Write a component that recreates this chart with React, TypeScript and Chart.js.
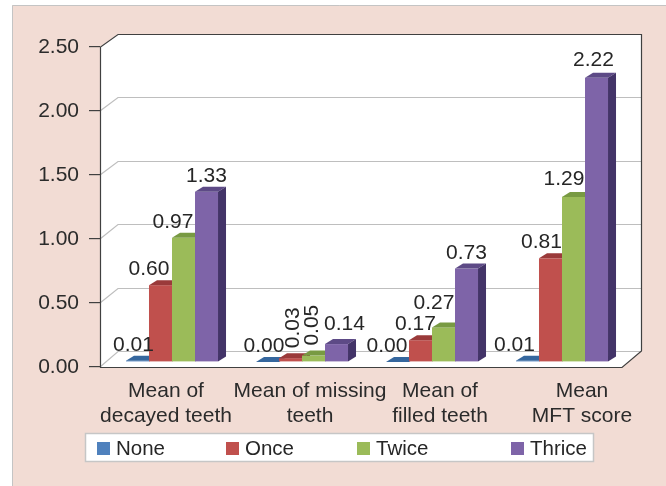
import { useEffect, useRef } from "react";
import { Chart, registerables } from "chart.js";

Chart.register(...registerables);

// ---------- data ----------
const categories = [
  ["Mean of", "decayed teeth"],
  ["Mean of missing", "teeth"],
  ["Mean of", "filled teeth"],
  ["Mean", "MFT score"],
];
const seriesNames = ["None", "Once", "Twice", "Thrice"];
const noneValues = [0.01, 0.0, 0.0, 0.01];
const onceValues = [0.6, 0.03, 0.17, 0.81];
const twiceValues = [0.97, 0.05, 0.27, 1.29];
const thriceValues = [1.33, 0.14, 0.73, 2.22];
const yTickValues = [0, 0.5, 1, 1.5, 2, 2.5];

// ---------- styles / layout ----------
const W = 666;
const H = 486;
const FONT = '"Liberation Sans", Arial, sans-serif';
const PINK = "#F2DCD4";
const frontColors = ["#4F81BD", "#C0504D", "#9BBB59", "#7E64A8"];
const topColors = ["#35679E", "#9A3A3A", "#789A42", "#5D4A86"];
const sideColors = ["#284C75", "#7A2B2B", "#5B7631", "#433468"];
const PLANE_DX = 7;
const PLANE_DY = -5;
const DEPTH_DX = 8;
const DEPTH_DY = -5;
// per-label nudges (px) [series][category]
const labelNudge = [
  [-4, -3.5, -10.5, -13],
  [-11.5, 3, -5, -9],
  [-10.5, -1, -9.5, -9.5],
  [0, 8, 0, -3],
];
const labelNudgeY = [
  [0, 0, 0, 0],
  [0, 0, 0, 0],
  [0, 0, -8, -2],
  [0, -4, 0, -2],
];
const labelVertical = [
  [false, false, false, false],
  [false, true, false, false],
  [false, true, false, false],
  [false, false, false, false],
];
const catLabelDx = [1, 15, 15, 27];
const legendItemX = [97, 226, 357, 511];

const seriesValues = [noneValues, onceValues, twiceValues, thriceValues];

const frame3d = {
  id: "frame3d",
  beforeDraw(chart: any) {
    const ctx = chart.ctx as CanvasRenderingContext2D;
    const ys = chart.scales.y;
    const L = chart.chartArea.left;
    const R = chart.chartArea.right;
    const T = ys.getPixelForValue(2.5);
    const B = ys.getPixelForValue(0);
    const bT = T - 13;
    const bB = B - 16;
    const bL = L + 18;
    const bR = R + 21;
    const backY = (fy: number) => bT + ((fy - T) * (bB - bT)) / (B - T);

    ctx.save();
    ctx.fillStyle = "#ffffff";
    ctx.fillRect(0, 0, W, H);
    ctx.fillStyle = PINK;
    ctx.fillRect(12, 5, W - 12, H - 5);
    ctx.strokeStyle = "#C4C4C4";
    ctx.lineWidth = 1;
    ctx.beginPath();
    ctx.moveTo(12.5, H);
    ctx.lineTo(12.5, 5.5);
    ctx.lineTo(W, 5.5);
    ctx.stroke();

    // plot shape
    ctx.fillStyle = "#ffffff";
    ctx.beginPath();
    ctx.moveTo(L, B);
    ctx.lineTo(L, T);
    ctx.lineTo(bL, bT);
    ctx.lineTo(bR, bT);
    ctx.lineTo(bR, bB);
    ctx.lineTo(R + 2, B);
    ctx.closePath();
    ctx.fill();

    // gridlines on the back wall
    ctx.strokeStyle = "#BEBEBE";
    ctx.lineWidth = 1.2;
    yTickValues.forEach((v) => {
      if (v === 2.5) return;
      const fy = ys.getPixelForValue(v);
      const by = Math.round(backY(fy)) + 0.5;
      ctx.beginPath();
      ctx.moveTo(L, fy);
      ctx.lineTo(bL, by);
      ctx.lineTo(bR, by);
      ctx.stroke();
    });

    // outline
    ctx.strokeStyle = "#404040";
    ctx.lineWidth = 1.2;
    ctx.beginPath();
    ctx.moveTo(L + 0.5, B + 0.5);
    ctx.lineTo(L + 0.5, T);
    ctx.lineTo(bL, bT + 0.5);
    ctx.lineTo(bR + 0.5, bT + 0.5);
    ctx.lineTo(bR + 0.5, bB);
    ctx.lineTo(R + 2, B + 0.5);
    ctx.closePath();
    ctx.stroke();
    ctx.restore();
  },
  beforeDatasetsDraw(chart: any) {
    const ctx = chart.ctx as CanvasRenderingContext2D;
    const metas = seriesNames.map((_, i) => chart.getDatasetMeta(i));
    ctx.save();
    ctx.translate(PLANE_DX, PLANE_DY);
    for (let c = 0; c < categories.length; c++) {
      for (let d = 0; d < metas.length; d++) {
        const el = metas[d].data[c];
        const { x, y, base, width } = el.getProps(["x", "y", "base", "width"], true);
        const l = x - width / 2;
        const r = x + width / 2;
        ctx.fillStyle = frontColors[d];
        ctx.fillRect(l, y, width, base - y);
        ctx.fillStyle = topColors[d];
        ctx.beginPath();
        ctx.moveTo(l, y);
        ctx.lineTo(r, y);
        ctx.lineTo(r + DEPTH_DX, y + DEPTH_DY);
        ctx.lineTo(l + DEPTH_DX, y + DEPTH_DY);
        ctx.closePath();
        ctx.fill();
        ctx.fillStyle = sideColors[d];
        ctx.beginPath();
        ctx.moveTo(r, y);
        ctx.lineTo(r + DEPTH_DX, y + DEPTH_DY);
        ctx.lineTo(r + DEPTH_DX, base + DEPTH_DY);
        ctx.lineTo(r, base);
        ctx.closePath();
        ctx.fill();
      }
    }
    // data labels
    ctx.fillStyle = "#262626";
    ctx.font = `21px ${FONT}`;
    for (let d = 0; d < metas.length; d++) {
      for (let c = 0; c < categories.length; c++) {
        const el = metas[d].data[c];
        const { x, y } = el.getProps(["x", "y"], true);
        const txt = seriesValues[d][c].toFixed(2);
        const cx = x + labelNudge[d][c];
        const ty = y - 10 + labelNudgeY[d][c];
        if (labelVertical[d][c]) {
          ctx.save();
          ctx.translate(cx, ty);
          ctx.rotate(-Math.PI / 2);
          ctx.textAlign = "left";
          ctx.textBaseline = "middle";
          ctx.fillText(txt, 0, 0);
          ctx.restore();
        } else {
          ctx.textAlign = "center";
          ctx.textBaseline = "alphabetic";
          ctx.fillText(txt, cx, ty);
        }
      }
    }
    ctx.restore();
    return false;
  },
  afterDraw(chart: any) {
    const ctx = chart.ctx as CanvasRenderingContext2D;
    const xs = chart.scales.x;
    ctx.save();
    // category labels
    ctx.fillStyle = "#2B2B2B";
    ctx.font = `21px ${FONT}`;
    ctx.textAlign = "center";
    ctx.textBaseline = "alphabetic";
    categories.forEach((lines, i) => {
      const cx = xs.getPixelForValue(i) + catLabelDx[i];
      lines.forEach((ln, j) => ctx.fillText(ln, cx, 397 + j * 25));
    });
    // legend
    ctx.fillStyle = "#ffffff";
    ctx.fillRect(85, 433, 509, 29);
    ctx.strokeStyle = "#C6C6C6";
    ctx.lineWidth = 1.5;
    ctx.strokeRect(85.5, 433.5, 508, 28);
    ctx.font = `20.5px ${FONT}`;
    ctx.textAlign = "left";
    chart.data.datasets.forEach((ds: any, i: number) => {
      const lx = legendItemX[i];
      ctx.fillStyle = ds.backgroundColor;
      ctx.fillRect(lx, 442, 13, 13);
      ctx.fillStyle = "#262626";
      ctx.fillText(ds.label, lx + 19, 455);
    });
    ctx.restore();
  },
};

export default function App() {
  const ref = useRef<HTMLCanvasElement | null>(null);
  useEffect(() => {
    if (!ref.current) return;
    const chart = new Chart(ref.current, {
      type: "bar",
      data: {
        labels: categories,
        datasets: seriesNames.map((name, i) => ({
          label: name,
          data: seriesValues[i],
          backgroundColor: frontColors[i],
          categoryPercentage: 0.708,
          barPercentage: 1,
        })),
      },
      options: {
        responsive: false,
        animation: false,
        events: [],
        layout: { padding: { left: 0, top: 47, right: 46, bottom: 119 } },
        plugins: {
          legend: { display: false },
          tooltip: { enabled: false },
        },
        scales: {
          x: { display: false },
          y: {
            min: 0,
            max: 2.5,
            afterFit: (scale: any) => {
              scale.width = 100;
            },
            afterBuildTicks: (scale: any) => {
              scale.ticks = yTickValues.map((v) => ({ value: v }));
            },
            border: { display: false },
            grid: {
              drawOnChartArea: false,
              drawTicks: true,
              tickLength: 11,
              tickColor: "#404040",
              color: "#404040",
              lineWidth: 1.2,
            },
            ticks: {
              padding: 10,
              color: "#2B2B2B",
              font: { family: FONT, size: 21 },
              callback: (v: any) => Number(v).toFixed(2),
            },
          },
        },
      },
      plugins: [frame3d],
    });
    return () => chart.destroy();
  }, []);
  return (
    <div style={{ position: "absolute", left: 0, top: 0, width: W, height: H }}>
      <canvas ref={ref} width={W} height={H} style={{ display: "block" }} />
    </div>
  );
}
